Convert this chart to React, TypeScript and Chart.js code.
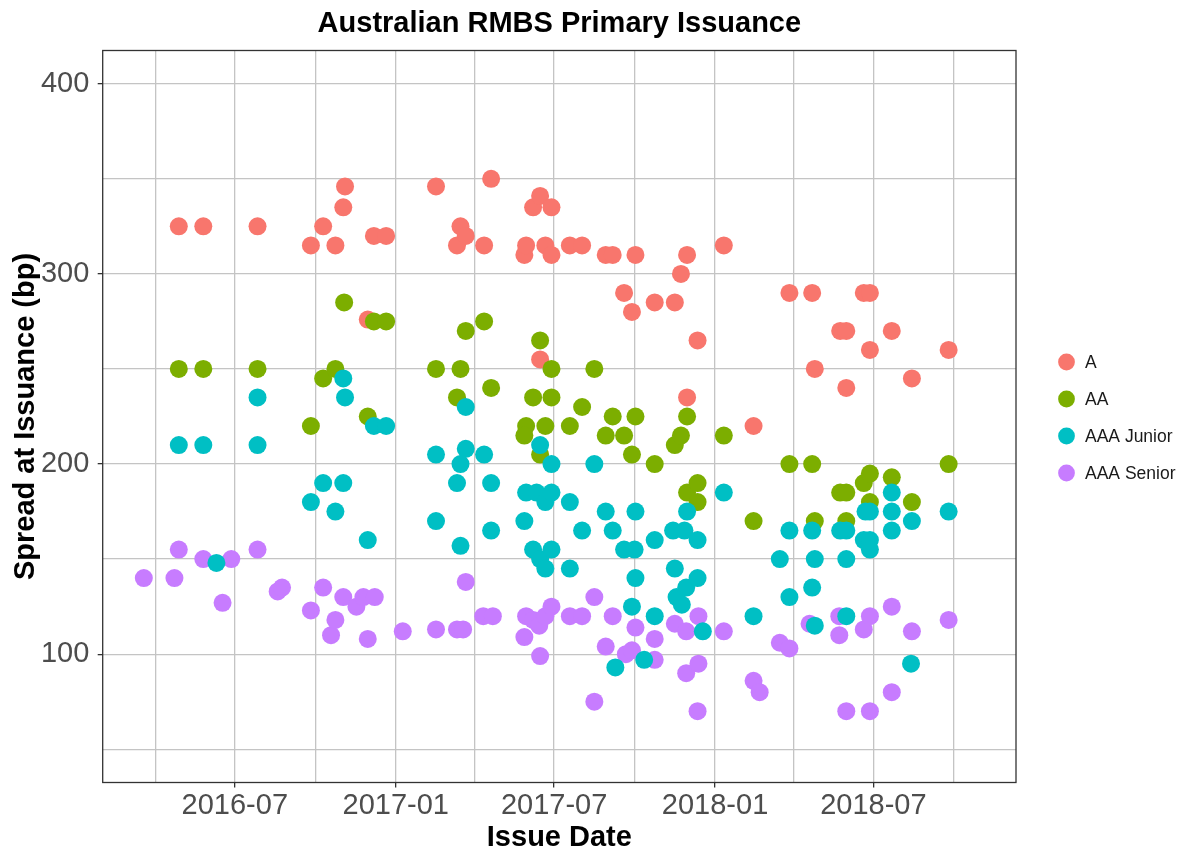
import React, { useEffect, useRef } from 'react';
import { Chart, registerables } from 'chart.js';

Chart.register(...registerables);

const FONT = '"Liberation Sans", Arial, Helvetica, sans-serif';

const seriesNames = ['A', 'AA', 'AAA Junior', 'AAA Senior'];
const seriesColors = ['#F8766D', '#7CAE00', '#00BFC4', '#C77CFF'];

const aDates = ['2016-04-28','2016-05-26','2016-07-27','2016-09-26','2016-10-10','2016-10-24','2016-11-02','2016-11-04','2016-11-30','2016-12-07','2016-12-21','2017-02-16','2017-03-12','2017-03-16','2017-03-22','2017-04-12','2017-04-20','2017-05-28','2017-05-30','2017-06-07','2017-06-15','2017-06-15','2017-06-21','2017-06-28','2017-06-28','2017-07-19','2017-08-02','2017-08-29','2017-09-06','2017-09-19','2017-09-28','2017-10-02','2017-10-24','2017-11-16','2017-11-23','2017-11-30','2017-11-30','2017-12-12','2018-01-11','2018-02-14','2018-03-27','2018-04-22','2018-04-25','2018-05-24','2018-05-31','2018-05-31','2018-06-20','2018-06-27','2018-06-27','2018-07-22','2018-08-14','2018-09-25'];
const aSpreads = [325,325,325,315,325,315,335,346,276,320,320,346,315,325,320,315,350,310,315,335,341,255,315,335,310,315,315,310,310,290,280,310,285,285,300,310,235,265,315,220,290,290,250,270,270,240,290,290,260,270,245,260];

const aaDates = ['2016-04-28','2016-05-26','2016-07-27','2016-09-26','2016-10-10','2016-10-24','2016-11-03','2016-11-30','2016-12-07','2016-12-21','2017-02-16','2017-03-12','2017-03-16','2017-03-22','2017-04-12','2017-04-20','2017-05-30','2017-05-28','2017-06-07','2017-06-15','2017-06-15','2017-06-21','2017-06-28','2017-06-28','2017-07-19','2017-08-02','2017-08-16','2017-08-29','2017-09-06','2017-09-19','2017-09-28','2017-10-02','2017-10-24','2017-11-16','2017-11-23','2017-11-30','2017-11-30','2017-12-12','2017-12-12','2018-01-11','2018-02-14','2018-03-27','2018-04-22','2018-04-25','2018-05-24','2018-05-31','2018-05-31','2018-06-20','2018-06-27','2018-06-27','2018-07-22','2018-08-14','2018-09-25'];
const aaSpreads = [250,250,250,220,245,250,285,225,275,275,250,235,250,270,275,240,220,215,235,265,205,220,250,235,220,230,250,215,225,215,205,225,200,210,215,225,185,190,180,215,170,200,200,170,185,185,170,190,195,180,193,180,200];

const juniorDates = ['2016-04-28','2016-05-26','2016-06-10','2016-07-27','2016-07-27','2016-09-26','2016-10-10','2016-10-24','2016-11-02','2016-11-02','2016-11-04','2016-11-30','2016-12-07','2016-12-21','2017-02-16','2017-02-16','2017-03-12','2017-03-16','2017-03-16','2017-03-22','2017-03-22','2017-04-12','2017-04-20','2017-04-20','2017-05-28','2017-05-30','2017-06-07','2017-06-11','2017-06-15','2017-06-15','2017-06-21','2017-06-21','2017-06-28','2017-06-28','2017-06-28','2017-07-19','2017-07-19','2017-08-02','2017-08-16','2017-08-29','2017-09-06','2017-09-09','2017-09-19','2017-09-28','2017-10-01','2017-10-02','2017-10-02','2017-10-12','2017-10-24','2017-10-24','2017-11-14','2017-11-16','2017-11-18','2017-11-24','2017-11-27','2017-11-29','2017-11-30','2017-12-12','2017-12-12','2017-12-18','2018-01-11','2018-02-14','2018-03-16','2018-03-27','2018-03-27','2018-04-22','2018-04-22','2018-04-25','2018-04-25','2018-05-24','2018-05-31','2018-05-31','2018-05-31','2018-06-20','2018-06-22','2018-06-27','2018-06-27','2018-06-27','2018-07-22','2018-07-22','2018-07-22','2018-08-14','2018-08-13','2018-09-25'];
const juniorSpreads = [210,210,148,235,210,180,190,175,245,190,235,160,220,220,205,170,190,200,157,230,208,205,190,165,170,185,155,185,210,150,180,145,200,185,155,180,145,165,200,175,165,93,155,125,155,175,140,97,160,120,165,145,130,126,165,135,175,160,140,112,185,120,150,165,130,165,135,150,115,165,165,150,120,160,175,175,160,155,185,175,165,170,95,175];

const seniorDates = ['2016-03-19','2016-04-23','2016-04-28','2016-05-26','2016-06-17','2016-06-27','2016-07-27','2016-08-19','2016-08-24','2016-09-26','2016-10-10','2016-10-19','2016-10-24','2016-11-02','2016-11-17','2016-11-25','2016-11-30','2016-12-08','2017-01-09','2017-02-16','2017-03-12','2017-03-19','2017-03-22','2017-04-11','2017-04-22','2017-05-28','2017-05-30','2017-06-07','2017-06-14','2017-06-15','2017-06-21','2017-06-28','2017-07-19','2017-08-02','2017-08-16','2017-08-16','2017-08-29','2017-09-06','2017-09-21','2017-09-28','2017-10-02','2017-10-24','2017-10-24','2017-11-16','2017-11-29','2017-11-29','2017-12-13','2017-12-13','2017-12-12','2018-01-11','2018-02-14','2018-02-21','2018-03-16','2018-03-27','2018-04-19','2018-05-23','2018-05-23','2018-05-31','2018-06-20','2018-06-27','2018-06-27','2018-07-22','2018-07-22','2018-08-14','2018-09-25'];
const seniorSpreads = [140,140,155,150,127,150,155,133,135,123,135,110,118,130,125,130,108,130,112,113,113,113,138,120,120,109,120,118,115,99,120,125,120,120,130,75,104,120,100,102,114,108,97,116,112,90,120,95,70,112,86,80,106,103,116,120,110,70,113,120,70,125,80,112,118];

const xTickDates = ['2016-04-01','2016-07-01','2016-10-01','2017-01-01','2017-04-01','2017-07-01','2017-10-01','2018-01-01','2018-04-01','2018-07-01','2018-10-01'];
const xTickLabels = ['','2016-07','','2017-01','','2017-07','','2018-01','','2018-07',''];
const xRange = ['2016-02-01', '2018-12-11'];
const yTickValues = [50,100,150,200,250,300,350,400];
const yTickLabels = ['','100','','200','','300','','400'];
const yRange = [32.5, 417.5];

const toTime = (s: string) => Date.parse(s + 'T00:00:00Z');
const toPoints = (dates: string[], vals: number[]) => dates.map((d, i) => ({ x: toTime(d), y: vals[i] }));

const seriesDates = [aDates, aaDates, juniorDates, seniorDates];
const seriesValues = [aSpreads, aaSpreads, juniorSpreads, seniorSpreads];
const drawOrder = [3, 2, 0, 1];

const panelBorder = {
  id: 'panelBorder',
  afterDatasetsDraw(chart: any) {
    const { ctx, chartArea } = chart;
    ctx.save();
    ctx.strokeStyle = '#333333';
    ctx.lineWidth = 1.3;
    ctx.strokeRect(chartArea.left, chartArea.top, chartArea.right - chartArea.left, chartArea.bottom - chartArea.top);
    ctx.restore();
  },
};

const ggLegend = {
  id: 'ggLegend',
  afterDraw(chart: any) {
    const { ctx, chartArea } = chart;
    const step = 37;
    const n = chart.data.datasets.length;
    const cy = (chartArea.top + chartArea.bottom) / 2 + 1;
    const y0 = cy - ((n - 1) * step) / 2;
    const cx = chartArea.right + 50.5;
    ctx.save();
    chart.data.datasets.forEach((ds: any, i: number) => {
      const y = y0 + i * step;
      ctx.beginPath();
      ctx.fillStyle = ds.backgroundColor;
      ctx.arc(cx, y, 8.4, 0, Math.PI * 2);
      ctx.fill();
      ctx.fillStyle = '#1a1a1a';
      ctx.font = '17.5px ' + FONT;
      ctx.textBaseline = 'middle';
      ctx.textAlign = 'left';
      ctx.fillText(ds.label, cx + 18.5, y + 1);
    });
    ctx.restore();
  },
};

export default function App() {
  const ref = useRef<HTMLCanvasElement>(null);

  useEffect(() => {
    document.body.style.margin = '0';
    const canvas = ref.current;
    if (!canvas) return;
    const tickFont = { family: FONT, size: 29 };
    const titleFont = { family: FONT, size: 29, weight: 'bold' as const, lineHeight: 1.2 };
    const chart = new Chart(canvas, {
      type: 'scatter',
      data: {
        datasets: seriesNames.map((name, k) => ({
          label: name,
          data: toPoints(seriesDates[k], seriesValues[k]),
          backgroundColor: seriesColors[k],
          borderWidth: 0,
          pointRadius: 9,
          pointHoverRadius: 9,
          order: drawOrder[k],
        })),
      },
      options: {
        responsive: true,
        maintainAspectRatio: false,
        animation: false,
        events: [],
        layout: { padding: { left: 0, right: 169, top: 0, bottom: 0 } },
        plugins: {
          legend: { display: false },
          tooltip: { enabled: false },
          title: {
            display: true,
            fullSize: false,
            text: 'Australian RMBS Primary Issuance',
            color: '#000000',
            font: titleFont,
            padding: { top: 7, bottom: 8.7 },
          },
        },
        scales: {
          x: {
            type: 'linear',
            min: toTime(xRange[0]),
            max: toTime(xRange[1]),
            afterBuildTicks: (scale: any) => {
              scale.ticks = xTickDates.map((d) => ({ value: toTime(d) }));
            },
            afterFit: (scale: any) => {
              scale.height = 69.5;
            },
            ticks: {
              autoSkip: false,
              maxRotation: 0,
              minRotation: 0,
              padding: 1,
              color: '#4D4D4D',
              font: tickFont,
              callback: (_v: any, i: number) => xTickLabels[i],
            },
            grid: {
              color: '#c4c4c4',
              lineWidth: 1.3,
              tickLength: 5,
              tickWidth: 1.3,
              tickColor: (ctx: any) => (xTickLabels[ctx.index] ? '#333333' : 'rgba(0,0,0,0)'),
            },
            border: { display: false },
            title: {
              display: true,
              text: 'Issue Date',
              color: '#000000',
              font: { family: FONT, size: 29, weight: 'bold', lineHeight: 1.0 },
              padding: { top: 0, bottom: 0 },
            },
          },
          y: {
            type: 'linear',
            min: yRange[0],
            max: yRange[1],
            afterBuildTicks: (scale: any) => {
              scale.ticks = yTickValues.map((v) => ({ value: v }));
            },
            afterFit: (scale: any) => {
              scale.width = 102.7;
            },
            ticks: {
              autoSkip: false,
              padding: 8.4,
              color: '#4D4D4D',
              font: tickFont,
              callback: (_v: any, i: number) => yTickLabels[i],
            },
            grid: {
              color: '#c4c4c4',
              lineWidth: 1.3,
              tickLength: 5,
              tickWidth: 1.3,
              tickColor: (ctx: any) => (yTickLabels[ctx.index] ? '#333333' : 'rgba(0,0,0,0)'),
            },
            border: { display: false },
            title: {
              display: true,
              text: 'Spread at Issuance (bp)',
              color: '#000000',
              font: titleFont,
              padding: { top: 8.6, bottom: 0 },
            },
          },
        },
      },
      plugins: [panelBorder, ggLegend],
    });
    return () => chart.destroy();
  }, []);

  return (
    <div style={{ width: 1185, height: 852, position: 'relative' }}>
      <canvas ref={ref} />
    </div>
  );
}
